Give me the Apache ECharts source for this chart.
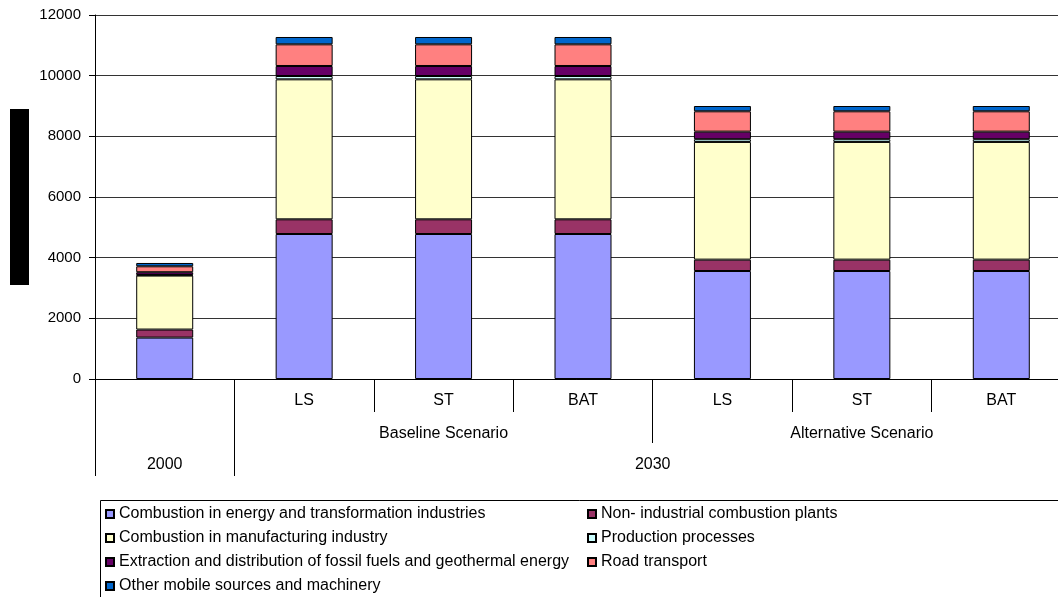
<!DOCTYPE html>
<html>
<head>
<meta charset="utf-8">
<script src="https://cdn.jsdelivr.net/npm/echarts@6/dist/echarts.min.js"></script>
<style>
  html, body { margin: 0; padding: 0; background: #fff; }
  #chart { width: 1058px; height: 597px; }
</style>
</head>
<body>
<div id="chart"></div>
<script>
// categories (level 1 labels), one per bar
var cases = ['', 'LS', 'ST', 'BAT', 'LS', 'ST', 'BAT'];
// group labels, placed on a 0..7 scale (category i centred at i + 0.5)
var scenarioLabels = { 2.5: 'Baseline Scenario', 5.5: 'Alternative Scenario' };
var yearLabels = { 0.5: '2000', 4: '2030' };
var caseSeps = [2, 3, 5, 6];
var scenarioSeps = [4];
var yearSeps = [0, 1, 7];

var energy     = [1365, 4780, 4780, 4780, 3560, 3560, 3560];
var nonInd     = [265, 484, 484, 484, 375, 375, 375];
var manuf      = [1780, 4615, 4615, 4615, 3880, 3880, 3880];
var production = [20, 110, 110, 110, 90, 90, 90];
var extraction = [90, 330, 330, 330, 250, 250, 250];
var road       = [195, 714, 714, 714, 670, 670, 670];
var other      = [110, 242, 242, 242, 175, 175, 175];

var seriesDefs = [
  ['Combustion in energy and transformation industries', energy, '#9999FF'],
  ['Non- industrial combustion plants', nonInd, '#993366'],
  ['Combustion in manufacturing industry', manuf, '#FFFFCC'],
  ['Production processes', production, '#CCFFFF'],
  ['Extraction and distribution of fossil fuels and geothermal energy', extraction, '#660066'],
  ['Road transport', road, '#FF8080'],
  ['Other mobile sources and machinery', other, '#0066CC']
];

var FONT = 'Liberation Sans, Arial, sans-serif';

var chart = echarts.init(document.getElementById('chart'));

// extra value axes over the same grid, used only for the multi-level labels / separators
function levelAxis(sepValues, tickLen, labelMap, margin) {
  return {
    type: 'value', min: 0, max: 7, position: 'bottom',
    axisLine: { show: false },
    splitLine: { show: false },
    axisTick: { show: true, length: tickLen, customValues: sepValues,
      lineStyle: { color: '#000', width: 1 } },
    axisLabel: {
      show: true, margin: margin, fontSize: 16, color: '#000', fontFamily: FONT,
      customValues: Object.keys(labelMap).map(Number),
      formatter: function (v) { return labelMap[v] || ''; }
    }
  };
}

function legendBlock(left, items) {
  return {
    orient: 'vertical', left: left, top: 501, height: 150, itemGap: 8,
    itemWidth: 8, itemHeight: 8, icon: 'rect',
    textStyle: { fontSize: 16, color: '#000', fontFamily: FONT },
    data: items
  };
}

var option = {
  animation: false,
  grid: { left: 95, top: 15, width: 976, height: 364, outerBoundsMode: 'none' },
  legend: [
    legendBlock(100, [seriesDefs[0][0], seriesDefs[2][0], seriesDefs[4][0], seriesDefs[6][0]]),
    legendBlock(582, [seriesDefs[1][0], seriesDefs[3][0], seriesDefs[5][0]])
  ],
  xAxis: [
    {
      type: 'category', data: cases,
      axisLine: { lineStyle: { color: '#000', width: 1 } },
      axisTick: { show: false },
      axisLabel: { margin: 14, fontSize: 16, color: '#000', fontFamily: FONT, interval: 0 }
    },
    levelAxis(caseSeps, 33, {}, 0),
    levelAxis(scenarioSeps, 64, scenarioLabels, 47),
    levelAxis(yearSeps, 97, yearLabels, 78)
  ],
  yAxis: {
    type: 'value', min: 0, max: 12000, interval: 2000,
    axisLine: { show: true, lineStyle: { color: '#000', width: 1 } },
    axisTick: { show: true, length: 6, lineStyle: { color: '#000' } },
    axisLabel: { margin: 14, fontSize: 15, color: '#000', fontFamily: FONT,
      formatter: function (v) { return String(v); } },
    splitLine: { lineStyle: { color: '#333', width: 1 } }
  },
  series: seriesDefs.map(function (d) {
    return {
      name: d[0], type: 'bar', stack: 'total', data: d[1],
      xAxisIndex: 0, barWidth: 57,
      itemStyle: { color: d[2], borderColor: '#000', borderWidth: 1 }
    };
  }),
  graphic: [
    // redacted axis title block
    { type: 'rect', shape: { x: 10, y: 109, width: 19, height: 176 },
      style: { fill: '#000' } },
    // legend frame
    { type: 'rect', shape: { x: 100.5, y: 500.5, width: 1000, height: 200 },
      style: { fill: 'none', stroke: '#000', lineWidth: 1 }, z: -1 }
  ]
};

chart.setOption(option);
</script>
</body>
</html>
